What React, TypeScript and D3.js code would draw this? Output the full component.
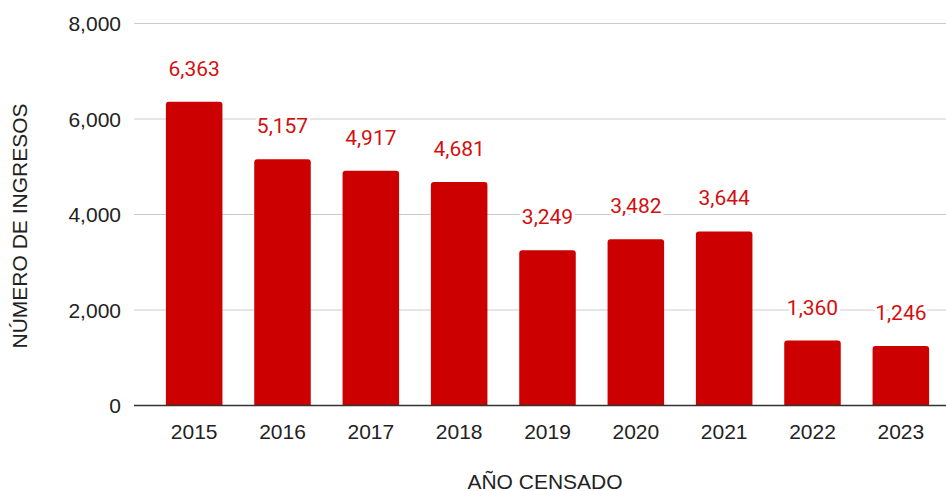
import React from "react";
import * as d3 from "d3";

const years = ["2015", "2016", "2017", "2018", "2019", "2020", "2021", "2022", "2023"];
const ingresos = [6363, 5157, 4917, 4681, 3249, 3482, 3644, 1360, 1246];
const yTicks = [0, 2000, 4000, 6000, 8000];

const W = 946;
const H = 491;

export default function App() {
  const x = d3
    .scaleBand<string>()
    .domain(years)
    .range([150, 945])
    .paddingInner(0.36)
    .paddingOuter(0.18);
  const y = d3.scaleLinear().domain([0, 8000]).range([405.5, 23.5]);
  const fmt = d3.format(",");
  const tickFont = "Arial, 'Liberation Sans', sans-serif";
  const labelFont = "Roboto, sans-serif";
  const r = 3;

  const barPath = (x0: number, w: number, top: number, bottom: number) => {
    const rr = Math.min(r, (bottom - top) / 2);
    return `M${x0},${bottom}V${top + rr}Q${x0},${top} ${x0 + rr},${top}H${x0 + w - rr}Q${x0 + w},${top} ${x0 + w},${top + rr}V${bottom}Z`;
  };

  return (
    <div style={{ position: "fixed", left: 0, top: 0 }}>
      <svg width={W} height={H} style={{ display: "block", background: "#fff" }}>
        {yTicks.map((t) => (
          <g key={t}>
            {t !== 0 && (
              <line x1={134} x2={946} y1={y(t)} y2={y(t)} stroke="#cccccc" strokeWidth={1} />
            )}
            <text
              x={121}
              y={y(t)}
              dy="0.36em"
              textAnchor="end"
              fontFamily={tickFont}
              fontSize={21}
              fill="#222"
            >
              {fmt(t)}
            </text>
          </g>
        ))}
        {years.map((yr, i) => {
          const x0 = x(yr)!;
          const w = x.bandwidth();
          const top = y(ingresos[i]);
          return (
            <g key={yr}>
              <path d={barPath(x0, w, top, y(0))} fill="#cc0000" />
              <text
                x={x0 + w / 2}
                y={top - 26}
                textAnchor="middle"
                fontFamily={labelFont}
                fontSize={21}
                fill="#d30f0f"
                stroke="#fff"
                strokeWidth={6}
                strokeLinejoin="round"
                style={{ paintOrder: "stroke" }}
              >
                {fmt(ingresos[i])}
              </text>
              <text
                x={x0 + w / 2}
                y={y(0) + 33}
                textAnchor="middle"
                fontFamily={tickFont}
                fontSize={21}
                fill="#222"
              >
                {yr}
              </text>
            </g>
          );
        })}
        <line x1={134} x2={946} y1={y(0)} y2={y(0)} stroke="#333" strokeWidth={1.5} />
        <text
          x={545}
          y={488.5}
          textAnchor="middle"
          fontFamily={tickFont}
          fontSize={21}
          fill="#222"
        >
          AÑO CENSADO
        </text>
        <text
          transform={`translate(27, 226) rotate(-90)`}
          textAnchor="middle"
          fontFamily={tickFont}
          fontSize={21}
          fill="#222"
        >
          NÚMERO DE INGRESOS
        </text>
      </svg>
    </div>
  );
}
